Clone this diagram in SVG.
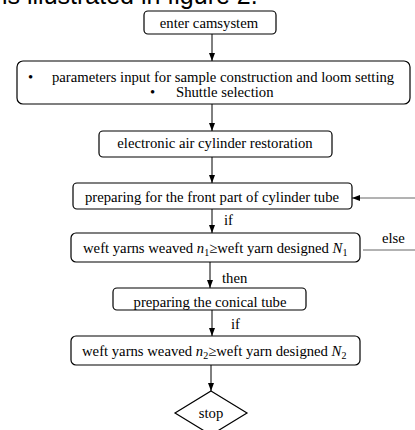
<svg xmlns="http://www.w3.org/2000/svg" width="415" height="430" viewBox="0 0 415 430">
  <style>
    .box { fill: #ffffff; stroke: #000000; stroke-width: 1.2; }
    .lbl { font-family: "Liberation Serif", "Times New Roman", serif; font-size: 14.7px; fill: #000000; }
    .mid { text-anchor: middle; }
    .sub { font-size: 10px; }
    .wire { fill: none; stroke: #000000; stroke-width: 1; }
    .grey { stroke: #666666; }
    .cap { font-family: "Liberation Sans", Arial, sans-serif; font-size: 25px; fill: #000000; }
  </style>
  <defs>
    <marker id="arrow" viewBox="0 0 8 8" refX="8" refY="4" markerWidth="8" markerHeight="8" markerUnits="userSpaceOnUse" orient="auto">
      <path d="M0,1 L8,4 L0,7 Z" fill="#000000"/>
    </marker>
  </defs>

  <rect width="415" height="430" fill="#ffffff"/>

  <!-- caption line, running above the top edge -->
  <text class="cap" x="2" y="4">is illustrated in figure 2.</text>

  <!-- connectors -->
  <g id="connectors">
    <line class="wire" x1="212" y1="34" x2="212" y2="61" marker-end="url(#arrow)"/>
    <line class="wire" x1="212" y1="104" x2="212" y2="131" marker-end="url(#arrow)"/>
    <line class="wire" x1="212" y1="157" x2="212" y2="183" marker-end="url(#arrow)"/>
    <line class="wire grey" x1="415" y1="198" x2="352" y2="198" marker-end="url(#arrow)"/>
    <line class="wire" x1="212" y1="209" x2="212" y2="233" marker-end="url(#arrow)"/>
    <text class="lbl" x="224" y="225">if</text>
    <line class="wire grey" x1="363" y1="250" x2="415" y2="250"/>
    <text class="lbl" x="382" y="243">else</text>
    <line class="wire" x1="210" y1="262" x2="210" y2="288" marker-end="url(#arrow)"/>
    <text class="lbl" x="222" y="283">then</text>
    <line class="wire" x1="212" y1="310" x2="212" y2="336" marker-end="url(#arrow)"/>
    <text class="lbl" x="231" y="329">if</text>
    <line class="wire" x1="211" y1="365" x2="211" y2="391" marker-end="url(#arrow)"/>
  </g>

  <g id="enter">
    <rect class="box" x="144" y="11" width="132" height="23" rx="4"/>
    <text class="lbl mid" x="209" y="28">enter camsystem</text>
  </g>

  <g id="parameters">
    <rect class="box" x="17" y="61" width="393" height="43" rx="6"/>
    <text class="lbl" x="28" y="82">•</text>
    <text class="lbl" x="52" y="82">parameters input for sample construction and loom setting</text>
    <text class="lbl" x="150" y="97">•</text>
    <text class="lbl" x="176" y="97">Shuttle selection</text>
  </g>

  <g id="restoration">
    <rect class="box" x="99" y="131" width="233" height="26" rx="4"/>
    <text class="lbl mid" x="215" y="148">electronic air cylinder restoration</text>
  </g>

  <g id="front-part">
    <rect class="box" x="73" y="183" width="279" height="26" rx="4"/>
    <text class="lbl mid" x="212" y="202">preparing for the front part of cylinder tube</text>
  </g>

  <g id="check-n1">
    <rect class="box" x="71" y="233" width="289" height="29" rx="5"/>
    <text class="lbl" x="83" y="253">weft yarns weaved <tspan font-style="italic">n</tspan><tspan class="sub" dy="3">1</tspan><tspan dy="-3">≥weft yarn designed </tspan><tspan font-style="italic">N</tspan><tspan class="sub" dy="3">1</tspan></text>
  </g>

  <g id="conical">
    <rect class="box" x="113" y="288" width="193" height="22" rx="4"/>
    <text class="lbl mid" x="210" y="307">preparing the conical tube</text>
  </g>

  <g id="check-n2">
    <rect class="box" x="71" y="336" width="289" height="29" rx="5"/>
    <text class="lbl" x="82" y="356">weft yarns weaved <tspan font-style="italic">n</tspan><tspan class="sub" dy="3">2</tspan><tspan dy="-3">≥weft yarn designed </tspan><tspan font-style="italic">N</tspan><tspan class="sub" dy="3">2</tspan></text>
  </g>

  <g id="stop">
    <polygon class="box" points="211,391 247,413 211,435 175,413"/>
    <text class="lbl mid" x="211" y="418">stop</text>
  </g>
</svg>
